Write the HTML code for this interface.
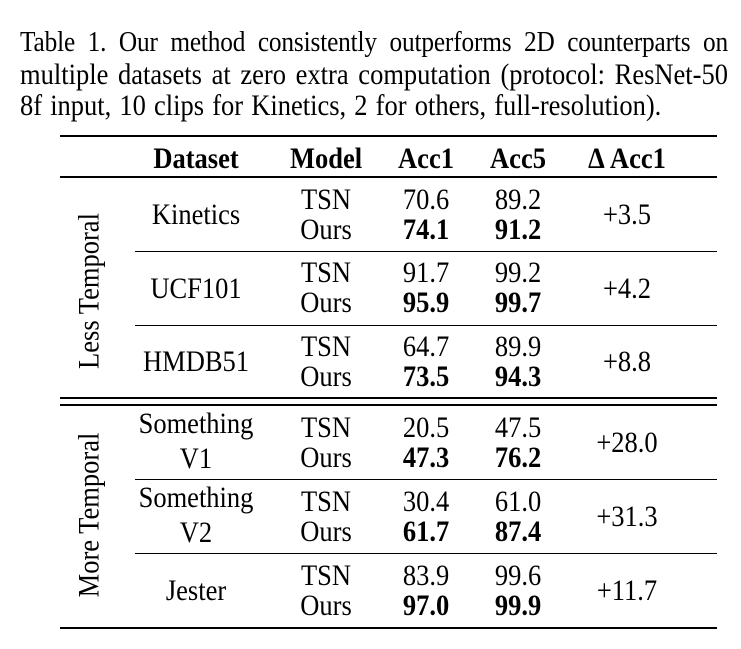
<!DOCTYPE html>
<html><head><style>
body{margin:0;width:741px;height:649px;background:#fff;position:relative;font-family:"Liberation Serif",serif;color:#000;overflow:hidden}
.c{position:absolute;left:20px;width:708px;font-size:26.5px;line-height:31px;white-space:nowrap;transform:scaleY(1.13);transform-origin:0 50%}
.j{text-align:justify;text-align-last:justify}
.t{position:absolute;font-size:26.5px;line-height:30px;transform:translate(-50%,-50%) scaleY(1.13);white-space:nowrap;text-align:center}
.b{font-weight:bold}
.h{position:absolute;background:#000}
.v{position:absolute;font-size:26.5px;white-space:nowrap;transform:translate(-50%,-50%) rotate(-90deg) scaleY(1.13)}
</style></head><body>
<div class="c j" style="top:27px;font-size:25.3px;letter-spacing:-0.15px">Table 1. Our method consistently outperforms 2D counterparts on</div>
<div class="c j" style="top:59px">multiple datasets at zero extra computation (protocol: ResNet-50</div>
<div class="c" style="top:90px;word-spacing:1.5px">8f input, 10 clips for Kinetics, 2 for others, full-resolution).</div>

<div class="h" style="left:60px;width:657px;top:135px;height:2px"></div>
<div class="h" style="left:60px;width:657px;top:176px;height:2px"></div>
<div class="h" style="left:135px;width:582px;top:251px;height:1px"></div>
<div class="h" style="left:135px;width:582px;top:325px;height:1px"></div>
<div class="h" style="left:60px;width:657px;top:397px;height:2px"></div>
<div class="h" style="left:60px;width:657px;top:404px;height:2px"></div>
<div class="h" style="left:135px;width:582px;top:479px;height:1px"></div>
<div class="h" style="left:135px;width:582px;top:553px;height:1px"></div>
<div class="h" style="left:60px;width:657px;top:627px;height:2px"></div>

<div class="t b" style="left:196px;top:158px">Dataset</div>
<div class="t b" style="left:326px;top:158px">Model</div>
<div class="t b" style="left:426px;top:158px">Acc1</div>
<div class="t b" style="left:518px;top:158px">Acc5</div>
<div class="t b" style="left:627px;top:158px">Δ Acc1</div>

<div class="v" style="left:89px;top:291px">Less Temporal</div>
<div class="v" style="left:89px;top:515px">More Temporal</div>

<div class="t" style="left:196px;top:214px">Kinetics</div>
<div class="t" style="left:196px;top:288px">UCF101</div>
<div class="t" style="left:196px;top:361px">HMDB51</div>
<div class="t" style="left:196px;top:441px;line-height:31px">Something<br>V1</div>
<div class="t" style="left:196px;top:515px;line-height:31px">Something<br>V2</div>
<div class="t" style="left:196px;top:590px">Jester</div>

<div class="t" style="left:326px;top:199px">TSN</div><div class="t" style="left:326px;top:229px">Ours</div>
<div class="t" style="left:426px;top:199px">70.6</div><div class="t b" style="left:426px;top:229px">74.1</div>
<div class="t" style="left:518px;top:199px">89.2</div><div class="t b" style="left:518px;top:229px">91.2</div>
<div class="t" style="left:627px;top:214px">+3.5</div>

<div class="t" style="left:326px;top:272px">TSN</div><div class="t" style="left:326px;top:302px">Ours</div>
<div class="t" style="left:426px;top:272px">91.7</div><div class="t b" style="left:426px;top:302px">95.9</div>
<div class="t" style="left:518px;top:272px">99.2</div><div class="t b" style="left:518px;top:302px">99.7</div>
<div class="t" style="left:627px;top:288px">+4.2</div>

<div class="t" style="left:326px;top:346px">TSN</div><div class="t" style="left:326px;top:376px">Ours</div>
<div class="t" style="left:426px;top:346px">64.7</div><div class="t b" style="left:426px;top:376px">73.5</div>
<div class="t" style="left:518px;top:346px">89.9</div><div class="t b" style="left:518px;top:376px">94.3</div>
<div class="t" style="left:627px;top:361px">+8.8</div>

<div class="t" style="left:326px;top:427px">TSN</div><div class="t" style="left:326px;top:457px">Ours</div>
<div class="t" style="left:426px;top:427px">20.5</div><div class="t b" style="left:426px;top:457px">47.3</div>
<div class="t" style="left:518px;top:427px">47.5</div><div class="t b" style="left:518px;top:457px">76.2</div>
<div class="t" style="left:627px;top:442px">+28.0</div>

<div class="t" style="left:326px;top:501px">TSN</div><div class="t" style="left:326px;top:531px">Ours</div>
<div class="t" style="left:426px;top:501px">30.4</div><div class="t b" style="left:426px;top:531px">61.7</div>
<div class="t" style="left:518px;top:501px">61.0</div><div class="t b" style="left:518px;top:531px">87.4</div>
<div class="t" style="left:627px;top:516px">+31.3</div>

<div class="t" style="left:326px;top:575px">TSN</div><div class="t" style="left:326px;top:605px">Ours</div>
<div class="t" style="left:426px;top:575px">83.9</div><div class="t b" style="left:426px;top:605px">97.0</div>
<div class="t" style="left:518px;top:575px">99.6</div><div class="t b" style="left:518px;top:605px">99.9</div>
<div class="t" style="left:627px;top:590px">+11.7</div>
</body></html>
